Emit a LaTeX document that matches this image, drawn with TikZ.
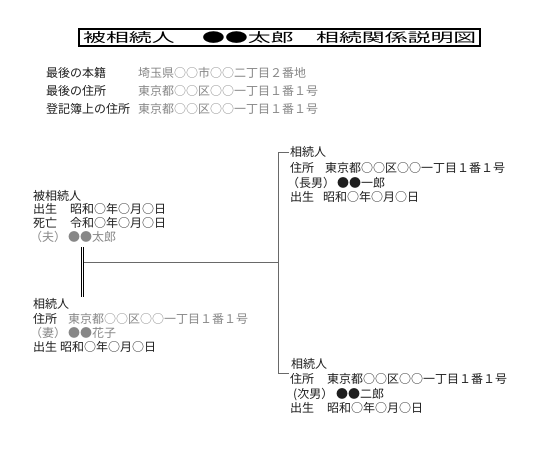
\documentclass[tikz,border=0pt]{standalone}
\usepackage{fontspec}
\setmainfont{Noto Sans CJK JP}
\newfontfamily\titlefont[FakeStretch=1.76]{Noto Sans CJK JP}
\definecolor{ink}{RGB}{30,30,30}
\definecolor{valgray}{RGB}{135,135,135}
\definecolor{linegray}{RGB}{105,105,105}
\begin{document}
\begin{tikzpicture}[x=1pt,y=-1pt,
  lbl/.style={anchor=west,inner sep=0pt,font=\fontsize{12}{12}\selectfont,text=ink,text height=10.5pt,text depth=1.5pt},
  val/.style={lbl,text=valgray},
  ttl/.style={anchor=west,inner sep=0pt,font=\titlefont\fontsize{13}{13}\selectfont,text=black,text height=11.4pt,text depth=1.6pt},
  ln/.style={line width=0.9pt,draw=linegray}]
\useasboundingbox[fill=white] (0,0) rectangle (540,457);

% title
\draw[line width=1.2pt] (79,29) rectangle (480,46);
\node[ttl] (t1) at (83,37.5) {被相続人};
\node[ttl] (t2) at (202,37.5) {●●太郎};
\node[ttl] (t3) at (316,37.5) {相続関係説明図};

% info
\node[lbl] (i1l) at (46,73) {最後の本籍};
\node[val] (i1v) at (138,73) {埼玉県○○市○○二丁目２番地};
\node[lbl] (i2l) at (46,91) {最後の住所};
\node[val] (i2v) at (138,91) {東京都○○区○○一丁目１番１号};
\node[lbl] (i3l) at (46,109) {登記簿上の住所};
\node[val] (i3v) at (138,109) {東京都○○区○○一丁目１番１号};

% decedent
\node[lbl] (d1) at (33,195.5) {被相続人};
\node[lbl] (d2l) at (33,209) {出生};
\node[lbl] (d2v) at (70,209) {昭和○年○月○日};
\node[lbl] (d3l) at (33,223) {死亡};
\node[lbl] (d3v) at (70,223) {令和○年○月○日};
\node[val] (d4l) at (30,237) {（夫）};
\node[val] (d4v) at (68,237) {●●太郎};

% wife
\node[lbl] (w1) at (33,304) {相続人};
\node[lbl] (w2l) at (33,319) {住所};
\node[val] (w2v) at (68,319) {東京都○○区○○一丁目１番１号};
\node[val] (w3l) at (30,333) {（妻）};
\node[val] (w3v) at (68,333) {●●花子};
\node[lbl] (w4l) at (33,347) {出生};
\node[lbl] (w4v) at (60,347) {昭和○年○月○日};

% eldest son
\node[lbl] (s1) at (290,152.5) {相続人};
\node[lbl] (s2l) at (290,168) {住所};
\node[lbl] (s2v) at (325,168) {東京都○○区○○一丁目１番１号};
\node[lbl] (s3l) at (287,182.5) {（長男）};
\node[lbl] (s3v) at (337,182.5) {●●一郎};
\node[lbl] (s4l) at (290,197) {出生};
\node[lbl] (s4v) at (323,197) {昭和○年○月○日};

% second son
\node[lbl] (r1) at (291,364) {相続人};
\node[lbl] (r2l) at (290,379) {住所};
\node[lbl] (r2v) at (327,379) {東京都○○区○○一丁目１番１号};
\node[lbl] (r3l) at (293,393.5) {(次男）};
\node[lbl] (r3v) at (336,393.5) {●●二郎};
\node[lbl] (r4l) at (290,408) {出生};
\node[lbl] (r4v) at (327,408) {昭和○年○月○日};

% connectors
\coordinate (dtop) at (82.5,247);
\coordinate (dbot) at (82.5,297);
\coordinate (hl) at (84,262);
\coordinate (vj) at (278,262);
\coordinate (vt) at (278,152);
\coordinate (vb) at (278,373);
\coordinate (tend) at (289,152);
\coordinate (bend) at (289,373);
\draw[black,line width=1pt,double=white,double distance=1.6pt] (dtop) -- (dbot);
\draw[ln] (hl) -- (vj);
\draw[ln] (tend) -- (vt) -- (vb) -- (bend);
\end{tikzpicture}
\end{document}
